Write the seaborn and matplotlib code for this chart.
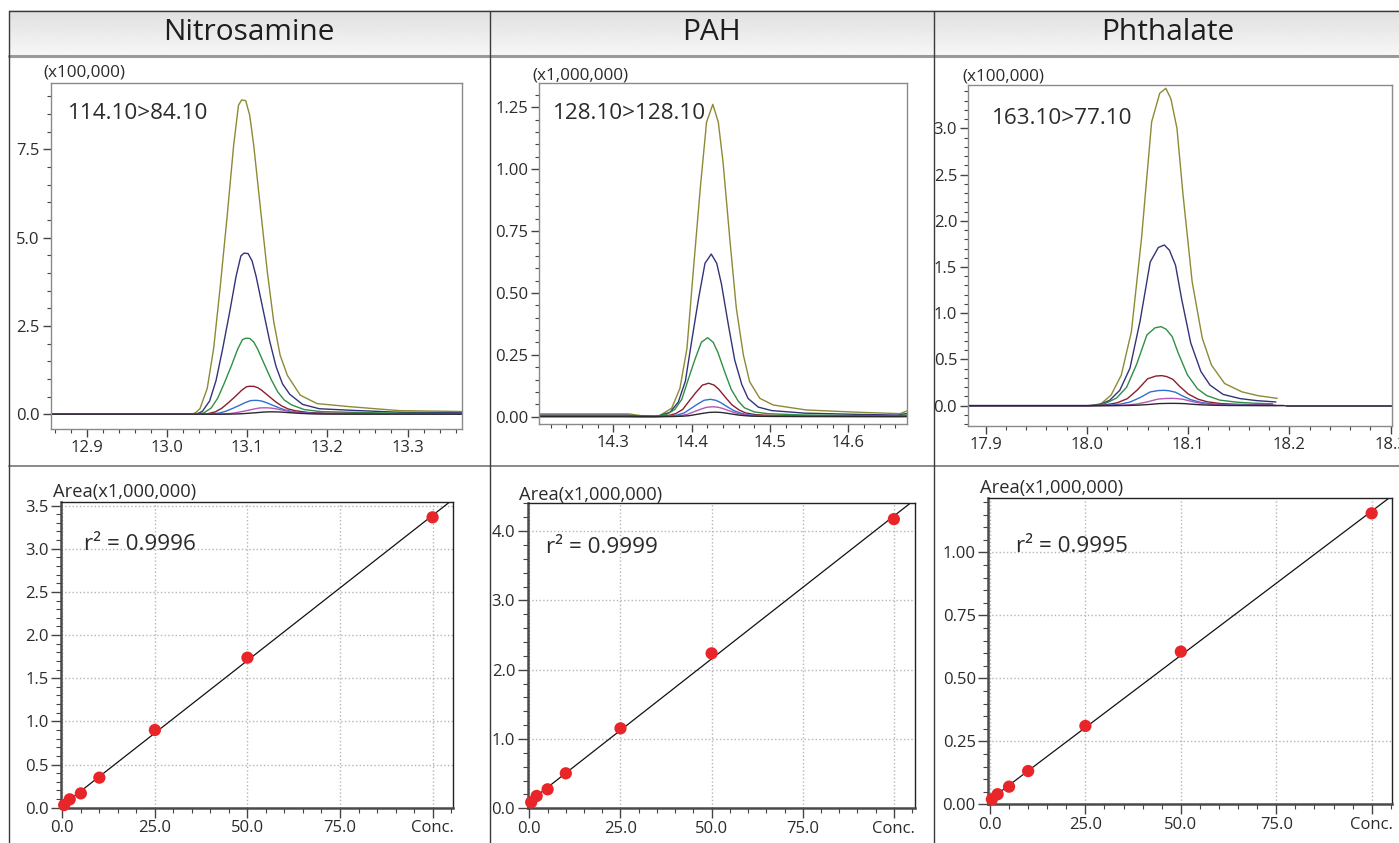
import numpy as np
import pandas as pd
import matplotlib
matplotlib.use("Agg")
import matplotlib.pyplot as plt
import seaborn as sns
from matplotlib.ticker import MultipleLocator
from matplotlib.lines import Line2D

# ---------------- data ----------------
titles = ["Nitrosamine", "PAH", "Phthalate"]
transitions = ["114.10>84.10", "128.10>128.10", "163.10>77.10"]
chrom_scale = ["(x100,000)", "(x1,000,000)", "(x100,000)"]
r2_values = ["0.9996", "0.9999", "0.9995"]

trace_colors = ["#8c8a34", "#333379", "#2f8f45", "#8b1e2b", "#2f6fcf", "#b455b8", "#2a2a2a"]

# Nitrosamine: traced profile of the largest trace (x100,000)
nitro_t = [12.80, 13.031, 13.036, 13.041, 13.050, 13.058, 13.066, 13.075, 13.083, 13.089,
           13.093, 13.098, 13.103, 13.108, 13.116, 13.125, 13.133, 13.141, 13.150, 13.166,
           13.187, 13.229, 13.290, 13.42]
nitro_v = [0.0, 0.0, 0.05, 0.16, 0.73, 1.86, 3.56, 5.64, 7.62, 8.75,
           8.90, 8.88, 8.47, 7.62, 5.92, 4.03, 2.62, 1.67, 1.10, 0.54,
           0.30, 0.21, 0.10, 0.06]
nitro_heights = [8.90, 4.56, 2.15, 0.79, 0.39, 0.18, 0.066]
nitro_apex = [13.093, 13.096, 13.098, 13.103, 13.108, 13.120, 13.129]

# PAH (x1,000,000)
pah_t = [14.15, 14.32, 14.335, 14.358, 14.3745, 14.385, 14.394, 14.402, 14.411, 14.419,
         14.427, 14.434, 14.440, 14.449, 14.457, 14.466, 14.474, 14.487, 14.504, 14.546,
         14.610, 14.666, 14.675, 14.70]
pah_v = [0.011, 0.011, 0.004, 0.002, 0.034, 0.114, 0.276, 0.586, 0.923, 1.19,
         1.262, 1.19, 1.03, 0.707, 0.438, 0.249, 0.141, 0.074, 0.047, 0.027,
         0.018, 0.012, 0.023, 0.03]
pah_heights = [1.262, 0.657, 0.319, 0.135, 0.070, 0.040, 0.018]
pah_apex = [14.427, 14.425, 14.4204, 14.4217, 14.4238, 14.427, 14.430]

# Phthalate (x100,000)
phth_t = [17.85, 18.005, 18.0145, 18.024, 18.034, 18.044, 18.054, 18.064, 18.072, 18.078,
          18.083, 18.089, 18.095, 18.104, 18.114, 18.123, 18.136, 18.153, 18.169, 18.188]
phth_v = [0.0, 0.0, 0.025, 0.115, 0.33, 0.80, 1.81, 3.07, 3.38, 3.433,
          3.32, 3.0, 2.28, 1.34, 0.73, 0.44, 0.24, 0.15, 0.108, 0.079]
phth_heights = [3.433, 1.738, 0.855, 0.325, 0.166, 0.079, 0.025]
phth_apex = [18.078, 18.0766, 18.0733, 18.074, 18.0766, 18.084, 18.0856]
phth_tail_t = [18.197, 18.31]
phth_tail_v = [0.0, 0.0]

# calibration curves (Area x1,000,000)
conc = [0.5, 2, 5, 10, 25, 50, 100]
nitro_area = [0.031, 0.097, 0.166, 0.348, 0.90, 1.738, 3.364]
pah_area = [0.087, 0.178, 0.274, 0.505, 1.154, 2.236, 4.173]
phth_area = [0.020, 0.040, 0.070, 0.132, 0.311, 0.606, 1.155]
fit_span = [0.0, 104.8]

conc_ticks = [0, 25, 50, 75, 100]
conc_ticklabels = ["0.0", "25.0", "50.0", "75.0", "Conc."]

# ---------------- style ----------------
sns.set_style("white")
plt.rcParams["font.family"] = ["Open Sans", "DejaVu Sans"]
TXT = "#2b2b2b"

W, H = 1399, 843
fig = plt.figure(figsize=(W / 100, H / 100), dpi=100)


def px_axes(l, t, r, b):
    return fig.add_axes([l / W, 1 - b / H, (r - l) / W, (b - t) / H])


# header gradient
hax = px_axes(8.5, 10.5, 1399, 55.5)
grad = np.linspace(0.875, 0.965, 50).reshape(-1, 1)
hax.imshow(grad, aspect="auto", cmap="gray", vmin=0, vmax=1, extent=(0, 1, 0, 1))
hax.set_axis_off()

col_centers = [249, 711.7, 1168]
for cx, title in zip(col_centers, titles):
    fig.text(cx / W, 1 - 33 / H, title, ha="center", va="center", fontsize=21.5, color="#1e1e1e")


# table lines
def hline(y, x0, x1, color, lw):
    fig.add_artist(Line2D([x0 / W, x1 / W], [1 - y / H, 1 - y / H], color=color, lw=lw,
                          transform=fig.transFigure))


def vline(x, y0, y1, color, lw):
    fig.add_artist(Line2D([x / W, x / W], [1 - y0 / H, 1 - y1 / H], color=color, lw=lw,
                          transform=fig.transFigure))


hline(10.5, 8.5, 1399, "#3a3a3a", 1.0)
hline(55.8, 8.5, 1399, "#9a9a9a", 2.2)
hline(466, 8.5, 1399, "#8a8a8a", 1.4)
vline(8.5, 10.5, 843, "#3a3a3a", 1.0)
vline(490, 10.5, 843, "#3a3a3a", 1.0)
vline(933.5, 10.5, 843, "#3a3a3a", 1.0)


def chrom(ax, t, prof, heights, apexes):
    t = np.asarray(t, float)
    prof = np.asarray(prof, float)
    apex0 = t[np.argmax(prof)]
    frames = []
    for i, (h, a) in enumerate(zip(heights, apexes)):
        frames.append(pd.DataFrame({"t": t + (a - apex0), "v": prof / prof.max() * h,
                                    "level": f"L{i}"}))
    df = pd.concat(frames, ignore_index=True)
    sns.lineplot(data=df, x="t", y="v", hue="level", palette=trace_colors,
                 estimator=None, sort=False, lw=1.0, legend=False, ax=ax)


def style_top(ax, xlim, ylim, xmaj, xmin, yticks, yfmt, ymin):
    ax.set_xlim(*xlim)
    ax.set_ylim(*ylim)
    ax.set_xticks(xmaj, [f"{v:.1f}" for v in xmaj])
    ax.xaxis.set_minor_locator(MultipleLocator(xmin))
    ax.set_yticks(yticks, [yfmt.format(v) for v in yticks])
    ax.yaxis.set_minor_locator(MultipleLocator(ymin))
    ax.set_xlabel("")
    ax.set_ylabel("")
    for s in ax.spines.values():
        s.set_color("#8a8a8a")
        s.set_linewidth(1.0)
    ax.tick_params(which="major", direction="out", length=6, width=1, color="#444",
                   labelsize=12, labelcolor=TXT, pad=2, bottom=True, left=True)
    ax.tick_params(which="minor", direction="out", length=3, width=0.8, color="#444",
                   bottom=True, left=True)


# ---- top row ----
ax1 = px_axes(51, 83, 462, 429)
chrom(ax1, nitro_t, nitro_v, nitro_heights, nitro_apex)
style_top(ax1, (12.855, 13.368), (-0.42, 9.38), [12.9, 13.0, 13.1, 13.2, 13.3], 0.02,
          [0.0, 2.5, 5.0, 7.5], "{:.1f}", 0.5)

ax2 = px_axes(539.3, 83.3, 906.7, 424.3)
chrom(ax2, pah_t, pah_v, pah_heights, pah_apex)
style_top(ax2, (14.2055, 14.6745), (-0.031, 1.347), [14.3, 14.4, 14.5, 14.6], 0.02,
          [0.0, 0.25, 0.50, 0.75, 1.00, 1.25], "{:.2f}", 0.05)

ax3 = px_axes(968.3, 85, 1391.7, 426)
chrom(ax3, phth_t, phth_v, phth_heights, phth_apex)
sns.lineplot(x=phth_tail_t, y=phth_tail_v, color="#3a2f4a", lw=1.3, ax=ax3)
style_top(ax3, (17.883, 18.301), (-0.22, 3.469), [17.9, 18.0, 18.1, 18.2, 18.3], 0.02,
          [0.0, 0.5, 1.0, 1.5, 2.0, 2.5, 3.0], "{:.1f}", 0.1)

top_text = [(ax1, -0.019, 1.029, 0.041, 0.913), (ax2, -0.018, 1.024, 0.0365, 0.912),
            (ax3, -0.015, 1.024, 0.055, 0.903)]
for (ax, sx, sy, tx, ty), sc, tr in zip(top_text, chrom_scale, transitions):
    ax.text(sx, sy, sc, transform=ax.transAxes, ha="left", va="center", fontsize=12.3, color=TXT)
    ax.text(tx, ty, tr, transform=ax.transAxes, ha="left", va="center", fontsize=16.2, color=TXT)


# ---- bottom row ----
def calib(ax, area, ylim, yticks, yfmt, ymin, xlim):
    slope, intercept = np.polyfit(conc, area, 1)
    fx = np.asarray(fit_span)
    ax.grid(True, which="major", ls=":", color="#b5b5b5", lw=1.0)
    ax.set_axisbelow(True)
    sns.lineplot(x=fx, y=slope * fx + intercept, color="#111111", lw=0.9, ax=ax)
    sns.scatterplot(x=conc, y=area, color="#e8262a", s=78, edgecolor="none", ax=ax,
                    zorder=3, clip_on=False)
    ax.set_xlim(*xlim)
    ax.set_ylim(*ylim)
    ax.set_xticks(conc_ticks, conc_ticklabels)
    ax.xaxis.set_minor_locator(MultipleLocator(5))
    ax.set_yticks(yticks, [yfmt.format(v) for v in yticks])
    ax.yaxis.set_minor_locator(MultipleLocator(ymin))
    ax.set_xlabel("")
    ax.set_ylabel("")
    for name, s in ax.spines.items():
        s.set_color("#222222")
        s.set_linewidth(1.0)
    ax.spines["left"].set_linewidth(1.8)
    ax.spines["left"].set_color("#4a4a4a")
    ax.spines["bottom"].set_linewidth(1.8)
    ax.spines["bottom"].set_color("#4a4a4a")
    ax.tick_params(which="major", direction="out", length=7, width=1, color="#444",
                   labelsize=12, labelcolor=TXT, pad=2, bottom=True, left=True)
    ax.tick_params(which="minor", direction="out", length=3.5, width=0.8, color="#444",
                   bottom=True, left=True)


bx1 = px_axes(61, 502.3, 453.3, 807.7)
calib(bx1, nitro_area, (0, 3.538), [0.0, 0.5, 1.0, 1.5, 2.0, 2.5, 3.0, 3.5], "{:.1f}", 0.1,
      (-0.36, 105.6))
bx2 = px_axes(527.7, 502.7, 915, 808.3)
calib(bx2, pah_area, (0, 4.41), [0.0, 1.0, 2.0, 3.0, 4.0], "{:.1f}", 0.2, (-0.46, 105.8))
bx3 = px_axes(988.3, 497.7, 1392.3, 804.3)
calib(bx3, phth_area, (0, 1.217), [0.0, 0.25, 0.50, 0.75, 1.00], "{:.2f}", 0.05,
      (-0.44, 105.4))

bot_text = [(bx1, -0.021, 1.035, 0.0586, 0.863), (bx2, -0.0217, 1.025, 0.047, 0.852),
            (bx3, -0.0205, 1.032, 0.0686, 0.840)]
for (ax, ax_x, ax_y, rx, ry), r2 in zip(bot_text, r2_values):
    ax.text(ax_x, ax_y, "Area(x1,000,000)", transform=ax.transAxes, ha="left", va="center",
            fontsize=13.2, color=TXT)
    ax.text(rx, ry, f"r² = {r2}", transform=ax.transAxes, ha="left", va="center",
            fontsize=16.2, color=TXT)

fig.savefig("out.png", dpi=100)
